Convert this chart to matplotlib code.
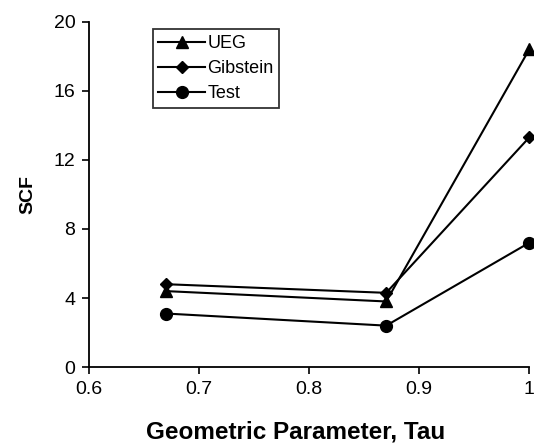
import matplotlib.pyplot as plt

plt.rcParams["font.family"] = ["Liberation Sans", "DejaVu Sans"]

tau = [0.67, 0.87, 1.0]
ueg = [4.4, 3.8, 18.4]
gibstein = [4.8, 4.3, 13.3]
test = [3.1, 2.4, 7.2]

x_ticks = [0.6, 0.7, 0.8, 0.9, 1.0]
x_tick_labels = ["0.6", "0.7", "0.8", "0.9", "1"]
y_ticks = [0, 4, 8, 12, 16, 20]

fig = plt.figure(figsize=(5.34, 4.46), dpi=100)
ax = fig.add_axes([0.167, 0.177, 0.824, 0.774])

ax.plot(tau, ueg, color="black", lw=1.5, marker="^", ms=8, label="UEG", clip_on=False)
ax.plot(tau, gibstein, color="black", lw=1.5, marker="D", ms=6.5, label="Gibstein", clip_on=False)
ax.plot(tau, test, color="black", lw=1.5, marker="o", ms=8.5, label="Test", clip_on=False)

ax.set_xlim(0.6, 1.0)
ax.set_ylim(0, 20)
ax.set_xticks(x_ticks)
ax.set_xticklabels(x_tick_labels)
ax.set_yticks(y_ticks)
ax.tick_params(labelsize=14, length=5, width=1.2, pad=5, direction="out", colors="black")
ax.spines["top"].set_visible(False)
ax.spines["right"].set_visible(False)
ax.spines["left"].set_linewidth(1.3)
ax.spines["bottom"].set_linewidth(1.3)

ax.set_xlabel("Geometric Parameter, Tau", fontsize=17.5, fontweight="bold")
ax.xaxis.set_label_coords(0.47, -0.155)
ax.set_ylabel("SCF", fontsize=14, fontweight="bold")
ax.yaxis.set_label_coords(-0.12, 0.5)

leg = ax.legend(loc="upper left", bbox_to_anchor=(0.145, 0.978), fontsize=13,
                frameon=True, fancybox=False, edgecolor="black",
                handlelength=2.6, borderpad=0.3, labelspacing=0.45, handletextpad=0.1,
                borderaxespad=0.0)
leg.get_frame().set_linewidth(1.3)

fig.savefig("out.png", dpi=100)
